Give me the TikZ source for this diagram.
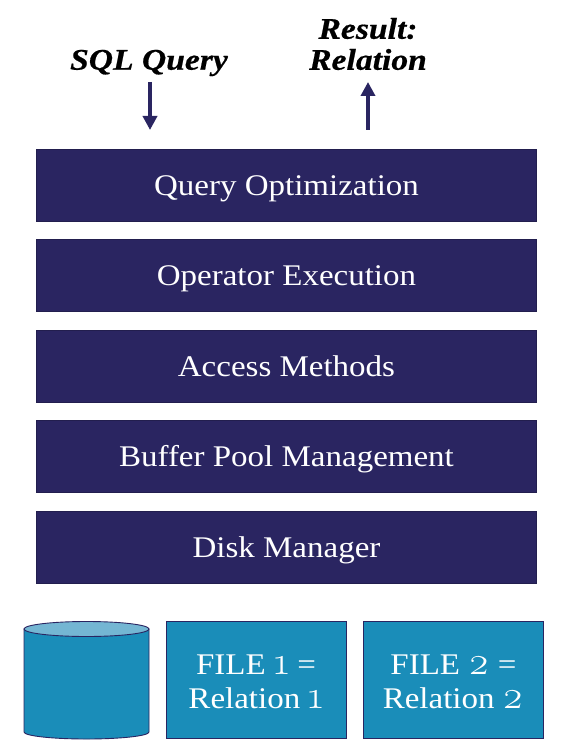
\documentclass[tikz,border=0pt]{standalone}
\usepackage{fontspec}
\setmainfont[FakeStretch=1.1]{Liberation Serif}
\newfontfamily\numfont[Numbers=OldStyle,FakeStretch=1.05,Scale=1.3]{Latin Modern Roman}
\newfontfamily\capfont[FakeStretch=1.12,FakeBold=0.6]{Liberation Serif}
\usepackage{tikz}
\usetikzlibrary{arrows.meta}
\definecolor{layerblue}{HTML}{2A2561}
\definecolor{filecyan}{HTML}{1A8DB9}
\definecolor{disktop}{HTML}{74B6D3}
\tikzset{
	layer/.style={draw=layerblue!80!black,fill=layerblue,text=white,minimum width=500pt,minimum height=72pt,font=\fontsize{30}{34}\selectfont,inner sep=0pt,text height=26pt,text depth=6pt},
	filebox/.style={draw=layerblue,line width=0.9pt,fill=filecyan,text=white,minimum width=180pt,minimum height=117pt,align=center,font=\fontsize{30}{34}\selectfont,inner sep=0pt},
	caption/.style={font=\fontsize{30}{31}\selectfont\capfont\bfseries\itshape,align=center,inner sep=0pt},
	flow/.style={line width=4pt,draw=layerblue,-{Triangle[length=14pt,width=14pt]}},
	diskbody/.style={draw=layerblue,line width=0.9pt,fill=filecyan},
	disklid/.style={draw=layerblue,line width=0.9pt,fill=disktop}
}
\begin{document}
\begin{tikzpicture}[x=1pt,y=-1pt]
	\useasboundingbox (0,0) rectangle (562,754);
	\node[layer](qo) at (286.5,185) {Query Optimization};
	\node[layer](oe) at (286.5,275.5) {Operator Execution};
	\node[layer](am) at (286.5,366.5) {Access Methods};
	\node[layer](bp) at (286.5,456.5) {Buffer Pool Management};
	\node[layer](dm) at (286.5,547.5) {Disk Manager};
	\node[caption](sql) at (149,63) {SQL Query};
	\node[caption](res) at (368,44) {Result:\\Relation};
	\coordinate (sqlstart) at (150,82);
	\coordinate (sqlend) at (150,130);
	\coordinate (resstart) at (368,130);
	\coordinate (resend) at (368,82);
	\draw[flow] (sqlstart) -- (sqlend);
	\draw[flow] (resstart) -- (resend);
	\node[filebox](f1) at (256,680) {\rule{0pt}{24pt}FILE {\numfont 1} =\\Relation {\numfont 1}};
	\node[filebox](f2) at (453.5,680) {\rule{0pt}{24pt}FILE {\numfont 2} =\\Relation {\numfont 2}};
	\draw[diskbody] (24,629) -- (24,732) arc[start angle=180,end angle=0,x radius=62.5,y radius=7] -- (149,629) -- cycle;
	\draw[disklid] (86.5,629) ellipse[x radius=62.5,y radius=7.5];
\end{tikzpicture}
\end{document}
